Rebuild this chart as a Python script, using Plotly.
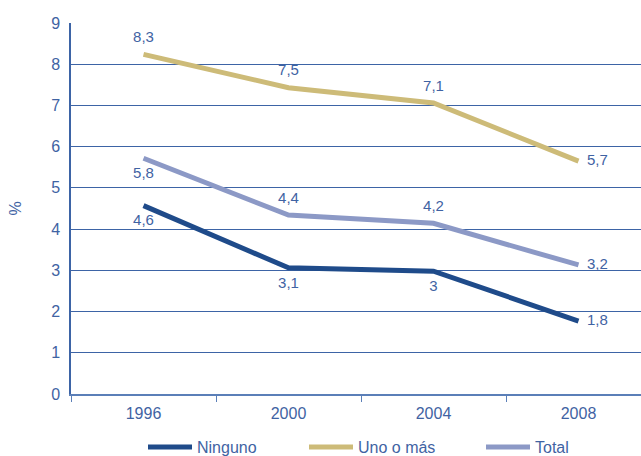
import plotly.graph_objects as go

years = ["1996", "2000", "2004", "2008"]
ninguno = [4.57, 3.06, 2.98, 1.77]
ninguno_lbl = ["4,6", "3,1", "3", "1,8"]
uno = [8.24, 7.43, 7.06, 5.65]
uno_lbl = ["8,3", "7,5", "7,1", "5,7"]
total = [5.72, 4.34, 4.14, 3.13]
total_lbl = ["5,8", "4,4", "4,2", "3,2"]
y_ticks = list(range(0, 10))

TXT = "#3F63A3"
GRID = "#3D64A6"
FONT = "Liberation Sans, Arial, sans-serif"

fig = go.Figure()

series = [
    ("Ninguno", ninguno, ninguno_lbl, "#1F4B8A",
     ["bottom center", "bottom center", "bottom center", "middle right"], "legend"),
    ("Uno o más", uno, uno_lbl, "#CDBB78",
     ["top center", "top center", "top center", "middle right"], "legend2"),
    ("Total", total, total_lbl, "#8C99C6",
     ["bottom center", "top center", "top center", "middle right"], "legend3"),
]

for name, vals, lbls, col, pos, lg in series:
    fig.add_trace(go.Scatter(
        x=years, y=vals, name=name, mode="lines+markers+text",
        text=lbls, textposition=pos,
        textfont=dict(family=FONT, size=15, color=TXT),
        line=dict(color=col, width=5),
        marker=dict(size=12, color="rgba(0,0,0,0)"),
        cliponaxis=False, legend=lg, showlegend=True,
    ))

leg_common = dict(orientation="h", xref="container", yref="container",
                  yanchor="middle", xanchor="left", bgcolor="rgba(0,0,0,0)",
                  itemwidth=44,
                  font=dict(family=FONT, size=16, color=TXT))
fig.update_layout(
    width=641, height=456,
    showlegend=True,
    margin=dict(l=71, r=0, t=23, b=62),
    paper_bgcolor="white", plot_bgcolor="white",
    font=dict(family=FONT, size=16, color=TXT),
    legend=dict(x=143 / 641, y=1 - 447 / 456, **leg_common),
    legend2=dict(x=304 / 641, y=1 - 447 / 456, **leg_common),
    legend3=dict(x=481 / 641, y=1 - 447 / 456, **leg_common),
    xaxis=dict(
        type="category", range=[-0.5, -0.5 + 570 / 145],
        showgrid=False, showline=True, linecolor="#5B7FB8", linewidth=1.5,
        ticks="outside", tickson="boundaries", ticklen=6, tickcolor="#5B7FB8",
        ticklabelstandoff=4,
        tickfont=dict(family=FONT, size=16, color=TXT),
    ),
    yaxis=dict(
        range=[0, 9], tickvals=y_ticks, ticktext=[str(v) for v in y_ticks],
        showgrid=True, gridcolor=GRID, gridwidth=1.2,
        zeroline=False, showline=True, linecolor=GRID, linewidth=1.5,
        ticks="outside", ticklen=0, ticklabelstandoff=6,
        tickfont=dict(family=FONT, size=16, color=TXT),
        title=dict(text="%", standoff=26, font=dict(family=FONT, size=16, color=TXT)),
    ),
)

fig.write_html("out.html", config={"displayModeBar": False},
               post_script="document.body.style.margin='0px';")
